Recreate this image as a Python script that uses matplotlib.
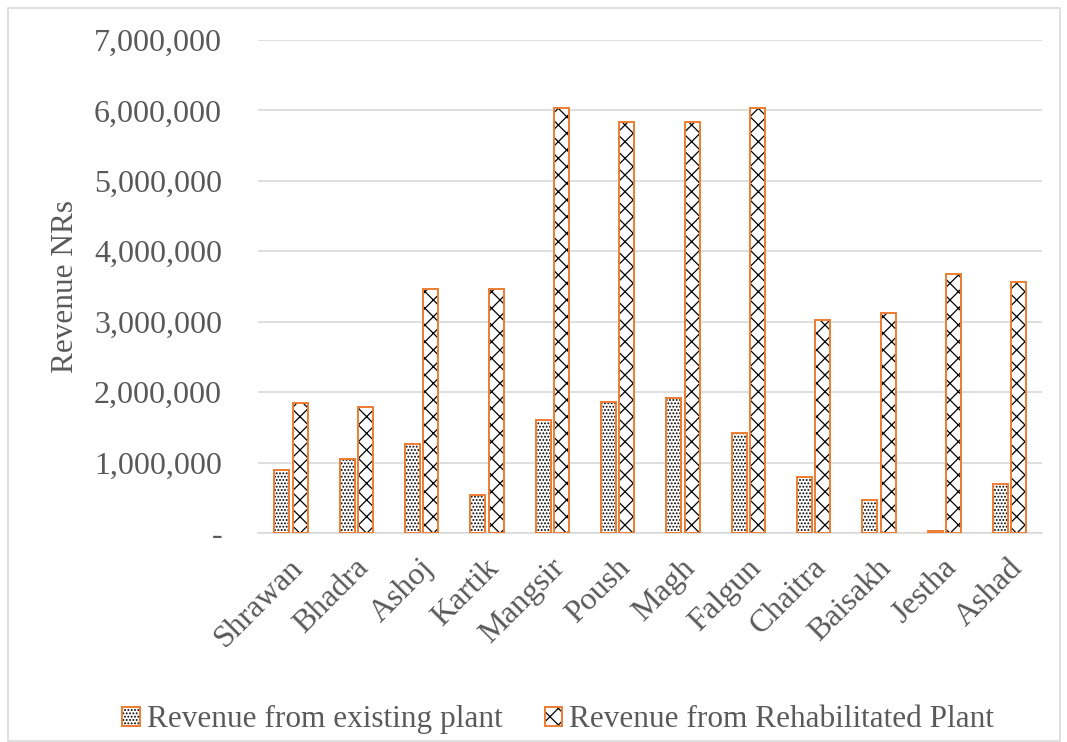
import numpy as np
import matplotlib
matplotlib.use('Agg')
import matplotlib.pyplot as plt
from matplotlib.patches import Patch, Rectangle
from matplotlib.ticker import FuncFormatter
from matplotlib.transforms import ScaledTranslation

plt.rcParams['font.family'] = 'Liberation Serif'
plt.rcParams['hatch.linewidth'] = 0.9

# monthly revenue (NRs)
months = ['Shrawan', 'Bhadra', 'Ashoj', 'Kartik', 'Mangsir', 'Poush',
          'Magh', 'Falgun', 'Chaitra', 'Baisakh', 'Jestha', 'Ashad']
existing = [900000, 1050000, 1260000, 540000, 1610000, 1860000,
            1910000, 1420000, 800000, 475000, 30000, 700000]
rehab = [1840000, 1790000, 3460000, 3460000, 6040000, 5840000,
         5840000, 6040000, 3020000, 3125000, 3680000, 3570000]

labels = ['Revenue from existing plant', 'Revenue from Rehabilitated Plant']
orange = '#ED7D31'
grey_txt = '#595959'
hatch_old = '.....'
hatch_new = 'xx'

fig = plt.figure(figsize=(10.67, 7.42), dpi=100)
ax = fig.add_axes([0.242, 0.2817, 0.735, 0.6643])

x = np.arange(len(months))
w = 0.23
off = 0.14

# hatch fill first, orange outline on top
ax.bar(x - off, existing, w, color='white', edgecolor='black', hatch=hatch_old, linewidth=0, zorder=2)
ax.bar(x - off, existing, w, fill=False, edgecolor=orange, linewidth=1.4, zorder=3)
ax.bar(x + off, rehab, w, color='white', edgecolor='black', hatch=hatch_new, linewidth=0, zorder=2)
ax.bar(x + off, rehab, w, fill=False, edgecolor=orange, linewidth=1.4, zorder=3)

ax.set_xlim(-0.5, len(months) - 0.5)
ax.set_ylim(0, 7000000)
ax.set_yticks(np.arange(0, 7000001, 1000000))
ax.yaxis.set_major_formatter(FuncFormatter(lambda v, p: '-' if v == 0 else f'{int(v):,}'))
ax.grid(axis='y', color='#d9d9d9', linewidth=1.2, zorder=0)
ax.set_axisbelow(True)

for s in ['top', 'right', 'left']:
    ax.spines[s].set_visible(False)
ax.spines['bottom'].set_color('#d9d9d9')
ax.spines['bottom'].set_linewidth(1.2)

ax.tick_params(axis='y', length=0, labelsize=23, labelcolor=grey_txt, pad=26)
ax.tick_params(axis='x', length=0, labelsize=23, labelcolor=grey_txt, pad=22)
ax.set_xticks(x)
ax.set_xticklabels(months, rotation=45, ha='right', va='center', rotation_mode='anchor')
shift = ScaledTranslation(8 / 100, 0, fig.dpi_scale_trans)
for lab in ax.get_xticklabels():
    lab.set_transform(lab.get_transform() + shift)
ax.set_ylabel('Revenue NRs', fontsize=22.5, color=grey_txt, labelpad=10)

h1 = (Patch(facecolor='white', edgecolor='black', hatch=hatch_old, linewidth=0),
      Patch(fill=False, edgecolor=orange, linewidth=1.4))
h2 = (Patch(facecolor='white', edgecolor='black', hatch=hatch_new, linewidth=0),
      Patch(fill=False, edgecolor=orange, linewidth=1.4))
fig.legend([h1, h2], labels, loc='center', bbox_to_anchor=(0.523, 0.03), ncol=2,
           frameon=False, fontsize=22.5, labelcolor=grey_txt, handlelength=0.57,
           handleheight=0.57, handletextpad=0.22, columnspacing=1.35,
           borderpad=0, borderaxespad=0)

# chart area border
fig.patches.append(Rectangle((8 / 1067, 1 / 742), 1052 / 1067, 733 / 742, transform=fig.transFigure,
                             fill=False, edgecolor='#d9d9d9', linewidth=1.2))

fig.savefig('out.png', dpi=100, facecolor='white')
